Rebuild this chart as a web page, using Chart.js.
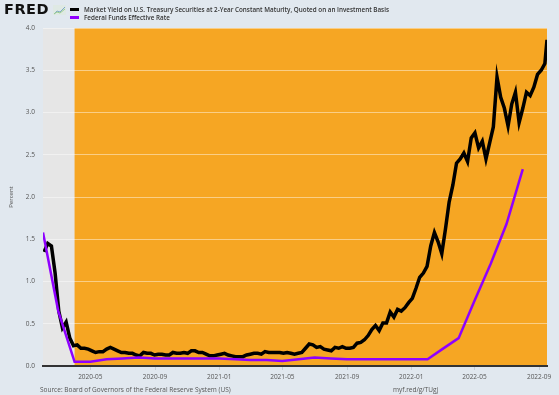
<!DOCTYPE html>
<html>
<head>
<meta charset="utf-8">
<script src="https://cdn.jsdelivr.net/npm/chart.js@4.4.0/dist/chart.umd.min.js"></script>
<style>
  html, body { margin: 0; padding: 0; background: #e1e8ef; }
  #wrap { position: relative; width: 559px; height: 395px; overflow: hidden; font-family: "Open Sans", sans-serif; }
  #chart { position: absolute; left: 0; top: 0; }
  .logo { position: absolute; left: 4px; top: 1px; font: bold 14.5px "DejaVu Sans", sans-serif; letter-spacing: 0.5px; color: #111; }
  .icon { position: absolute; left: 53px; top: 5px; }
  .leg { position: absolute; left: 70px; font-size: 6.3px; font-weight: 600; color: #333; white-space: nowrap; }
  .leg i { display: inline-block; width: 9px; height: 3px; vertical-align: middle; margin-right: 5px; margin-top: -1px; }
  .foot { position: absolute; top: 385px; font-size: 6.5px; color: #555; white-space: nowrap; }
</style>
</head>
<body>
<div id="wrap">
  <canvas id="chart" width="559" height="395"></canvas>
  <div class="logo">FRED</div>
  <svg class="icon" width="13" height="10" viewBox="0 0 13 10">
    <rect x="0" y="0" width="13" height="10" fill="#dfe9e4"/>
    <polyline points="1,9 4,6 7,7 12,2" fill="none" stroke="#7fa7c9" stroke-width="1"/>
    <polyline points="1,9 4,7 7,8 12,4" fill="none" stroke="#9ccf8f" stroke-width="1"/>
  </svg>
  <div class="leg" style="top:5px"><i style="background:#000"></i>Market Yield on U.S. Treasury Securities at 2-Year Constant Maturity, Quoted on an Investment Basis</div>
  <div class="leg" style="top:13px"><i style="background:#8f00ff"></i>Federal Funds Effective Rate</div>
  <div class="foot" style="left:40px">Source: Board of Governors of the Federal Reserve System (US)</div>
  <div class="foot" style="left:393px">myf.red/g/TUgj</div>
</div>
<script>
// 2-year Treasury yield, weekly readings (percent)
var yieldDates = [
  '2020-02-03','2020-02-10','2020-02-17','2020-02-24',
  '2020-03-02','2020-03-09','2020-03-16','2020-03-23','2020-03-30',
  '2020-04-06','2020-04-13','2020-04-20','2020-04-27',
  '2020-05-04','2020-05-11','2020-05-18','2020-05-25',
  '2020-06-01','2020-06-08','2020-06-15','2020-06-22','2020-06-29',
  '2020-07-06','2020-07-13','2020-07-20','2020-07-27',
  '2020-08-03','2020-08-10','2020-08-17','2020-08-24','2020-08-31',
  '2020-09-07','2020-09-14','2020-09-21','2020-09-28',
  '2020-10-05','2020-10-12','2020-10-19','2020-10-26',
  '2020-11-02','2020-11-09','2020-11-16','2020-11-23','2020-11-30',
  '2020-12-07','2020-12-14','2020-12-21','2020-12-28',
  '2021-01-04','2021-01-11','2021-01-18','2021-01-25',
  '2021-02-01','2021-02-08','2021-02-15','2021-02-22',
  '2021-03-01','2021-03-08','2021-03-15','2021-03-22','2021-03-29',
  '2021-04-05','2021-04-12','2021-04-19','2021-04-26',
  '2021-05-03','2021-05-10','2021-05-17','2021-05-24','2021-05-31',
  '2021-06-07','2021-06-14','2021-06-21','2021-06-28',
  '2021-07-05','2021-07-12','2021-07-19','2021-07-26',
  '2021-08-02','2021-08-09','2021-08-16','2021-08-23','2021-08-30',
  '2021-09-06','2021-09-13','2021-09-20','2021-09-27',
  '2021-10-04','2021-10-11','2021-10-18','2021-10-25',
  '2021-11-01','2021-11-08','2021-11-15','2021-11-22','2021-11-29',
  '2021-12-06','2021-12-13','2021-12-20','2021-12-27',
  '2022-01-03','2022-01-10','2022-01-17','2022-01-24','2022-01-31',
  '2022-02-07','2022-02-14','2022-02-21','2022-02-28',
  '2022-03-07','2022-03-14','2022-03-21','2022-03-28',
  '2022-04-04','2022-04-11','2022-04-18','2022-04-25',
  '2022-05-02','2022-05-09','2022-05-16','2022-05-23','2022-05-30',
  '2022-06-06','2022-06-13','2022-06-20','2022-06-27',
  '2022-07-04','2022-07-11','2022-07-18','2022-07-25',
  '2022-08-01','2022-08-08','2022-08-15','2022-08-22','2022-08-29',
  '2022-09-05','2022-09-12','2022-09-16'
];
var yieldValues = [
  1.35,1.45,1.42,1.10,
  0.65,0.45,0.52,0.33,0.24,
  0.25,0.21,0.21,0.20,
  0.18,0.16,0.17,0.17,
  0.20,0.22,0.20,0.18,0.16,
  0.16,0.15,0.15,0.13,
  0.12,0.16,0.15,0.15,0.13,
  0.14,0.14,0.13,0.13,
  0.16,0.15,0.15,0.16,
  0.15,0.18,0.18,0.16,0.16,
  0.14,0.12,0.12,0.13,
  0.14,0.15,0.13,0.12,
  0.11,0.11,0.11,0.13,
  0.14,0.15,0.15,0.14,0.17,
  0.16,0.16,0.16,0.16,
  0.15,0.16,0.15,0.14,0.15,
  0.16,0.21,0.26,0.25,
  0.22,0.23,0.20,0.19,
  0.18,0.22,0.21,0.23,0.21,
  0.21,0.22,0.27,0.28,
  0.31,0.36,0.43,0.48,
  0.42,0.51,0.51,0.64,0.58,
  0.67,0.65,0.69,0.75,
  0.80,0.92,1.05,1.10,1.18,
  1.42,1.58,1.47,1.33,
  1.62,1.94,2.14,2.40,
  2.45,2.52,2.42,2.70,
  2.76,2.58,2.66,2.45,2.64,
  2.83,3.42,3.18,3.05,
  2.84,3.10,3.24,2.88,
  3.05,3.24,3.20,3.30,3.45,
  3.50,3.58,3.86
];

// Federal funds effective rate, monthly
var ffrDates = [
  '2020-02-01','2020-03-01','2020-04-01','2020-05-01','2020-06-01','2020-07-01',
  '2020-08-01','2020-09-01','2020-10-01','2020-11-01','2020-12-01',
  '2021-01-01','2021-02-01','2021-03-01','2021-04-01','2021-05-01','2021-06-01',
  '2021-07-01','2021-08-01','2021-09-01','2021-10-01','2021-11-01','2021-12-01',
  '2022-01-01','2022-02-01','2022-03-01','2022-04-01','2022-05-01','2022-06-01',
  '2022-07-01','2022-08-01'
];
var ffrValues = [
  1.58,0.65,0.05,0.05,0.08,0.09,
  0.10,0.09,0.09,0.09,0.09,
  0.09,0.08,0.07,0.07,0.06,0.08,
  0.10,0.09,0.08,0.08,0.08,0.08,
  0.08,0.08,0.20,0.33,0.77,1.21,
  1.68,2.33
];

var xTickLabels = ['2020-05','2020-09','2021-01','2021-05','2021-09','2022-01','2022-05','2022-09'];
var recessionStart = '2020-02-01', recessionEnd = '2020-04-01';
var xStart = '2020-02-01', xEnd = '2022-09-16';

function day(s) {
  var p = s.split('-');
  return Date.UTC(+p[0], +p[1] - 1, +(p[2] || 1)) / 86400000;
}
function pts(dates, vals) {
  return dates.map(function(d, i) { return { x: day(d), y: vals[i] }; });
}

var bgPlugin = {
  id: 'bg',
  beforeDraw: function(chart) {
    var c = chart.ctx, a = chart.chartArea, x = chart.scales.x;
    c.save();
    c.fillStyle = '#e1e8ef';
    c.fillRect(0, 0, chart.width, chart.height);
    c.fillStyle = '#f6a623';
    c.fillRect(a.left, a.top, a.right - a.left, a.bottom - a.top);
    var r0 = Math.max(a.left, x.getPixelForValue(day(recessionStart)));
    var r1 = x.getPixelForValue(day(recessionEnd));
    c.fillStyle = '#e6e6e6';
    c.fillRect(r0, a.top, r1 - r0, a.bottom - a.top);
    c.restore();
  }
};

var ctx = document.getElementById('chart');

var chart = new Chart(ctx, {
  type: 'line',
  data: {
    datasets: [
      {
        label: 'Federal Funds Effective Rate',
        data: pts(ffrDates, ffrValues),
        borderColor: '#8f00ff',
        borderWidth: 2.5,
        pointRadius: 0,
        tension: 0
      },
      {
        label: 'Market Yield on U.S. Treasury Securities at 2-Year Constant Maturity',
        data: pts(yieldDates, yieldValues),
        borderColor: '#000',
        borderWidth: 3.5,
        pointRadius: 0,
        tension: 0
      }
    ]
  },
  options: {
    responsive: false,
    animation: false,
    layout: { padding: { top: 28, right: 12, left: 8, bottom: 0 } },
    plugins: { legend: { display: false }, tooltip: { enabled: false } },
    scales: {
      x: {
        type: 'linear',
        min: day(xStart),
        max: day(xEnd),
        afterBuildTicks: function(axis) {
          axis.ticks = xTickLabels.map(function(l) { return { value: day(l) }; });
        },
        afterFit: function(s) { s.height = 29; },
        ticks: {
          autoSkip: false,
          maxRotation: 0,
          padding: 3,
          color: '#555',
          font: { family: 'Open Sans', size: 6.5 },
          callback: function(v, i) { return xTickLabels[i]; }
        },
        grid: { drawOnChartArea: false, tickLength: 4, color: '#c5ced8' },
        border: { color: '#333', width: 2 }
      },
      y: {
        min: 0,
        max: 4,
        afterFit: function(s) { s.width = 35; },
        ticks: {
          stepSize: 0.5,
          padding: 8,
          color: '#555',
          font: { family: 'Open Sans', size: 6.5 },
          callback: function(v) { return v.toFixed(1); }
        },
        title: { display: true, text: 'Percent', color: '#555', padding: 0, font: { family: 'Open Sans', size: 6 } },
        grid: { color: 'rgba(255,255,255,0.45)', drawTicks: false },
        border: { display: false }
      }
    }
  },
  plugins: [bgPlugin]
});
</script>
</body>
</html>
